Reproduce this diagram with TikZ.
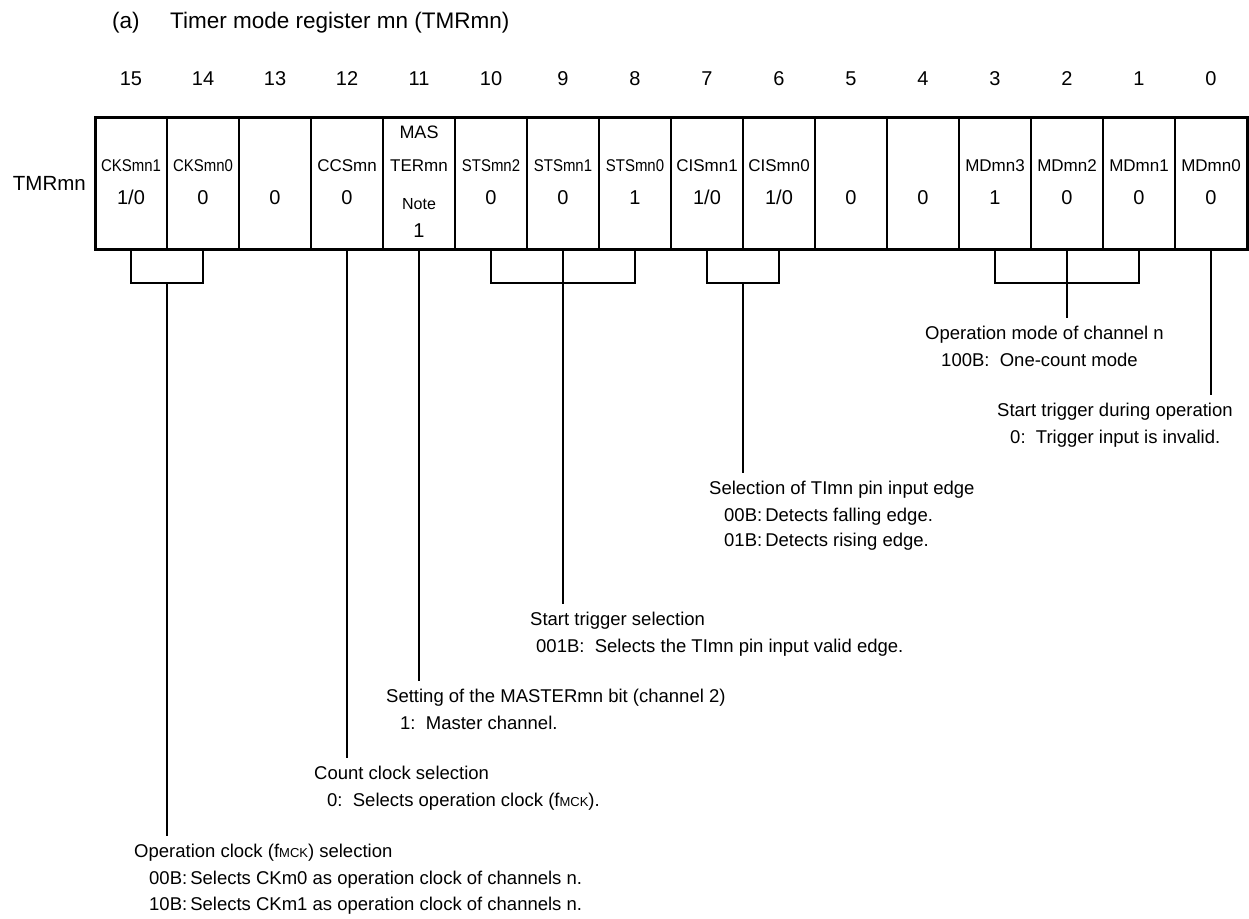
\documentclass[tikz,border=0pt]{standalone}
\usepackage{fontspec}
\setmainfont{Liberation Sans}
\newfontfamily\narrowfont{Liberation Sans}[FakeStretch=0.88]
\usetikzlibrary{positioning}
\newcommand{\oneorzero}{1/0}
\newcommand{\mck}{f{\fontsize{13}{13}\selectfont MCK}}

\begin{document}
\begin{tikzpicture}[x=1pt, y=-1pt,
    every node/.style={inner sep=0pt, font=\fontsize{18.5}{22}\selectfont},
    heading/.style={font=\fontsize{22.5}{26}\selectfont, anchor=base west},
    bitnum/.style={font=\fontsize{20}{24}\selectfont, anchor=base},
    regname/.style={font=\fontsize{20.5}{24}\selectfont},
    cell/.style={draw, line width=1.6pt, outer sep=0pt, minimum width=72pt, minimum height=132pt},
    fieldname/.style={font=\fontsize{17}{20}\selectfont, anchor=base},
    narrowname/.style={font=\fontsize{17}{20}\narrowfont, anchor=base},
    notemark/.style={font=\fontsize{16}{18}\selectfont, anchor=base},
    bitval/.style={font=\fontsize{20}{24}\selectfont, anchor=base},
    leader/.style={line width=2pt},
    desc/.style={anchor=base west, text height=21.5pt, text depth=4pt},
    detail/.style={anchor=base west}
]
\useasboundingbox (0,0) rectangle (1249,918);

\node[heading] (title) at (112,28) {\makebox[58pt][l]{(a)}Timer mode register mn (TMRmn)};

% register cells and bit numbers
\foreach \bitno in {15,...,0}{
  \pgfmathsetmacro{\xc}{131+72*(15-\bitno)}
  \node[cell] (b\bitno) at (\xc,183) {};
  \node[bitnum] (n\bitno) at (\xc,85) {\bitno};
}
\draw[line width=3pt] (b15.north west) rectangle (b0.south east);
\node[regname, left=9pt of b15] (reg) {TMRmn};

\coordinate (toprow) at (0,138.5);
\coordinate (namerow) at (0,171);
\coordinate (valrow) at (0,204);
\coordinate (noterow) at (0,209);
\coordinate (lastrow) at (0,237);
\coordinate (bracketrow) at (0,283);

% field names and values
\foreach \bitno/\txt in {15/CKSmn1, 14/CKSmn0, 10/STSmn2, 9/STSmn1, 8/STSmn0}
  \node[narrowname] (f\bitno) at (b\bitno |- namerow) {\txt};
\foreach \bitno/\txt in {12/CCSmn, 11/TERmn, 7/CISmn1, 6/CISmn0, 3/MDmn3, 2/MDmn2, 1/MDmn1, 0/MDmn0}
  \node[fieldname] (f\bitno) at (b\bitno |- namerow) {\txt};
\node[fieldname, font=\fontsize{18}{20}\selectfont] (mas) at (b11 |- toprow) {MAS};
\node[notemark] (note) at (b11 |- noterow) {Note};
\node[bitval] (v11) at (b11 |- lastrow) {1};
\foreach \bitno/\val in {15/\oneorzero, 14/0, 13/0, 12/0, 10/0, 9/0, 8/1,
    7/\oneorzero, 6/\oneorzero, 5/0, 4/0, 3/1, 2/0, 1/0, 0/0}
  \node[bitval] (v\bitno) at (b\bitno |- valrow) {\val};

% descriptions
\node[desc] (cksa) at (134,857.5) {Operation clock (\mck) selection};
\node[detail] (cksb) at ([xshift=15pt,yshift=-27pt]cksa.base west) {00B:\,Selects CKm0 as operation clock of channels n.};
\node[detail] (cksc) at ([yshift=-26pt]cksb.base west) {10B:\,Selects CKm1 as operation clock of channels n.};

\node[desc] (ccsa) at (314,779.5) {Count clock selection};
\node[detail] (ccsb) at ([xshift=13pt,yshift=-27pt]ccsa.base west) {0:\ \ Selects operation clock (\mck).};

\node[desc] (masa) at (386,702.5) {Setting of the MASTERmn bit (channel 2)};
\node[detail] (masb) at ([xshift=14pt,yshift=-27pt]masa.base west) {1:\ \ Master channel.};

\node[desc] (stsa) at (530,625.5) {Start trigger selection};
\node[detail] (stsb) at ([xshift=6pt,yshift=-27pt]stsa.base west) {001B:\ \ Selects the TImn pin input valid edge.};

\node[desc] (cisa) at (709,494.5) {Selection of TImn pin input edge};
\node[detail] (cisb) at ([xshift=15pt,yshift=-27pt]cisa.base west) {00B:\,Detects falling edge.};
\node[detail] (cisc) at ([yshift=-25pt]cisb.base west) {01B:\,Detects rising edge.};

\node[desc] (mda) at (925,339.5) {Operation mode of channel n};
\node[detail] (mdb) at ([xshift=16pt,yshift=-27pt]mda.base west) {100B:\ \ One-count mode};

\node[desc] (mdza) at (997,416.5) {Start trigger during operation};
\node[detail] (mdzb) at ([xshift=13pt,yshift=-27pt]mdza.base west) {0:\ \ Trigger input is invalid.};

% brackets and leaders
\draw[leader] (b15.south) |- (b14.south |- bracketrow) -- (b14.south);
\draw[leader] (b15.south east |- bracketrow) -- (b15.south east |- cksa.north);
\draw[leader] (b12.south) -- (b12.south |- ccsa.north);
\draw[leader] (b11.south) -- (b11.south |- masa.north);
\draw[leader] (b10.south) |- (b8.south |- bracketrow) -- (b8.south);
\draw[leader] (b9.south) -- (b9.south |- stsa.north);
\draw[leader] (b7.south) |- (b6.south |- bracketrow) -- (b6.south);
\draw[leader] (b7.south east |- bracketrow) -- (b7.south east |- cisa.north);
\draw[leader] (b3.south) |- (b1.south |- bracketrow) -- (b1.south);
\draw[leader] (b2.south) -- (b2.south |- mda.north);
\draw[leader] (b0.south) -- (b0.south |- mdza.north);

\end{tikzpicture}
\end{document}
